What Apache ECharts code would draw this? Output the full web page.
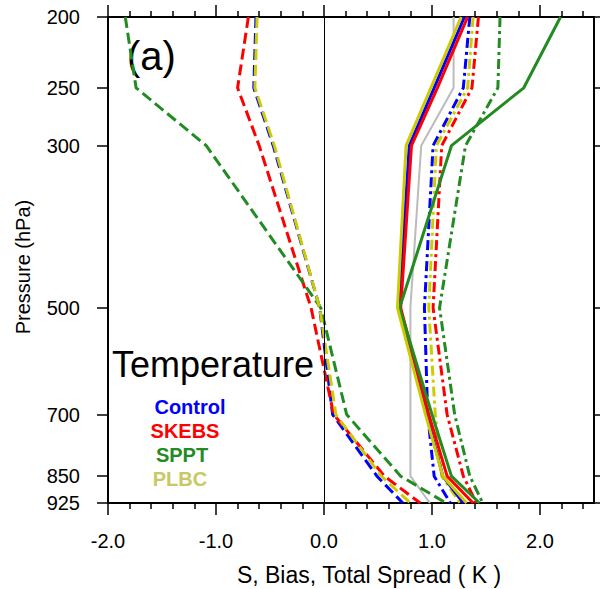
<!DOCTYPE html>
<html>
<head>
<meta charset="utf-8">
<script src="https://cdn.jsdelivr.net/npm/echarts@6/dist/echarts.min.js"></script>
<style>
html,body{margin:0;padding:0;background:#fff;}
#chart{width:600px;height:589px;}
</style>
</head>
<body>
<div id="chart"></div>
<script>
// Pressure levels (hPa)
const pressure = [200, 250, 300, 500, 700, 850, 925];
const yTickLabels = [200, 250, 300, 500, 700, 850, 925];
const xMajorTicks = [-2, -1, 0, 1, 2];
const xMinorTicks = [-1.8, -1.6, -1.4, -1.2, -0.8, -0.6, -0.4, -0.2, 0.2, 0.4, 0.6, 0.8, 1.2, 1.4, 1.6, 1.8, 2.2, 2.4];

// Bias (dashed)
const biasControl = [-0.63, -0.65, -0.47, -0.04, 0.08, 0.49, 0.73];
const biasSKEBS   = [-0.70, -0.80, -0.60, -0.12, 0.09, 0.56, 0.89];
const biasSPPT    = [-1.84, -1.74, -1.09, -0.03, 0.21, 0.71, 1.13];
const biasPLBC    = [-0.62, -0.64, -0.46, -0.04, 0.11, 0.53, 0.80];

// Total spread (solid)
const spreadControl = [1.30, 1.02, 0.79, 0.69, 0.95, 1.10, 1.29];
const spreadSKEBS   = [1.33, 1.05, 0.81, 0.71, 0.97, 1.14, 1.38];
const spreadSPPT    = [2.19, 1.85, 1.18, 0.70, 1.00, 1.18, 1.44];
const spreadPLBC    = [1.27, 0.99, 0.76, 0.68, 0.94, 1.10, 1.32];

// S (dash-dot)
const sControl = [1.35, 1.29, 1.01, 0.93, 0.96, 1.02, 1.17];
const sSKEBS   = [1.43, 1.37, 1.09, 1.01, 1.14, 1.29, 1.41];
const sSPPT    = [1.63, 1.61, 1.31, 1.07, 1.21, 1.35, 1.47];
const sPLBC    = [1.38, 1.33, 1.04, 0.97, 1.03, 1.09, 1.26];

// Observation error (gray)
const obsError = [1.20, 1.20, 0.90, 0.80, 0.80, 0.80, 0.98];

const models = ['Control', 'SKEBS', 'SPPT', 'PLBC'];
const colors = {Control: '#0000ff', SKEBS: '#ff0000', SPPT: '#228b22', PLBC: '#cccc00'};
const textColors = {Control: '#0000ff', SKEBS: '#ff0000', SPPT: '#228b22', PLBC: '#c8c864'};
const biasData = {Control: biasControl, SKEBS: biasSKEBS, SPPT: biasSPPT, PLBC: biasPLBC};
const spreadData = {Control: spreadControl, SKEBS: spreadSKEBS, SPPT: spreadSPPT, PLBC: spreadPLBC};
const sData = {Control: sControl, SKEBS: sSKEBS, SPPT: sSPPT, PLBC: sPLBC};

const lp = p => Math.log(p);
const toPts = vals => vals.map((v, i) => [v, lp(pressure[i])]);
const FONT = 'Liberation Sans, Arial, sans-serif';

const series = [];
series.push({
  name: 'obs', type: 'line', data: toPts(obsError), symbol: 'none',
  lineStyle: {color: '#bbbbbb', width: 2}, z: 2,
  markLine: {
    silent: true, symbol: ['none', 'none'], label: {show: false},
    lineStyle: {color: '#000', width: 1, type: 'solid'},
    data: [{xAxis: 0}]
  }
});
const styles = [
  {data: sData, type: [10, 4, 3, 4]},
  {data: spreadData, type: 'solid'},
  {data: biasData, type: [11, 5]}
];
styles.forEach(st => {
  models.forEach(m => {
    series.push({
      name: m, type: 'line', data: toPts(st.data[m]), symbol: 'none',
      lineStyle: {color: colors[m], width: 3, type: st.type, cap: 'butt'}, z: 3
    });
  });
});

const yMin = lp(pressure[0]), yMax = lp(pressure[pressure.length - 1]);
const yTickVals = yTickLabels.map(lp);

function xAxisDef(pos, ticks, len, labels, line) {
  return {
    type: 'value', position: pos, min: -2, max: 2.5, interval: 1,
    axisLine: {show: line, onZero: false, lineStyle: {color: '#000', width: 2}},
    axisTick: {show: true, inside: false, length: len, customValues: ticks, lineStyle: {color: '#000', width: 1.5}},
    axisLabel: labels ? {show: true, customValues: labels, formatter: v => v.toFixed(1), margin: 28,
      fontSize: 20, fontFamily: FONT, color: '#000'} : {show: false},
    splitLine: {show: false}
  };
}
function yAxisDef(pos, labels) {
  return {
    type: 'value', position: pos, min: yMin, max: yMax, inverse: true,
    axisLine: {show: true, onZero: false, lineStyle: {color: '#000', width: 2}},
    axisTick: {show: true, inside: false, length: 11, customValues: yTickVals, lineStyle: {color: '#000', width: 1.5}},
    axisLabel: labels ? {show: true, customValues: yTickVals, formatter: v => String(Math.round(Math.exp(v))),
      margin: 28, fontSize: 20, fontFamily: FONT, color: '#000'} : {show: false},
    splitLine: {show: false}
  };
}

function txt(text, x, y, size, color, opts) {
  opts = opts || {};
  return {
    type: 'text', x: x, y: y, rotation: opts.rotation || 0, silent: true,
    style: {
      text: text, fill: color, fontSize: size, fontFamily: FONT, fontWeight: opts.bold ? 'bold' : 'normal',
      textAlign: opts.align || 'center', textVerticalAlign: 'middle',
      align: opts.align || 'center', verticalAlign: 'middle'
    }
  };
}

const option = {
  animation: false,
  backgroundColor: '#fff',
  grid: {left: 108, right: 6, top: 17, bottom: 86, containLabel: false},
  xAxis: [
    xAxisDef('bottom', xMajorTicks, 12, xMajorTicks, true),
    xAxisDef('bottom', xMinorTicks, 6, null, false),
    xAxisDef('top', xMajorTicks, 12, null, true),
    xAxisDef('top', xMinorTicks, 6, null, false)
  ],
  yAxis: [yAxisDef('left', true), yAxisDef('right', false)],
  series: series,
  graphic: [
    txt('(a)', 127, 56, 40, '#000', {align: 'left'}),
    txt('Temperature', 112, 364, 36, '#000', {align: 'left'}),
    txt('Control', 190, 407, 20, textColors.Control, {bold: true}),
    txt('SKEBS', 185, 431, 20, textColors.SKEBS, {bold: true}),
    txt('SPPT', 182, 455, 20, textColors.SPPT, {bold: true}),
    txt('PLBC', 180, 479, 20, textColors.PLBC, {bold: true}),
    txt('S, Bias, Total Spread ( K )', 369, 575, 23, '#000'),
    txt('Pressure (hPa)', 23, 267, 20, '#000', {rotation: Math.PI / 2})
  ]
};

const chart = echarts.init(document.getElementById('chart'), null, {renderer: 'svg', width: 600, height: 589});
chart.setOption(option);
</script>
</body>
</html>
